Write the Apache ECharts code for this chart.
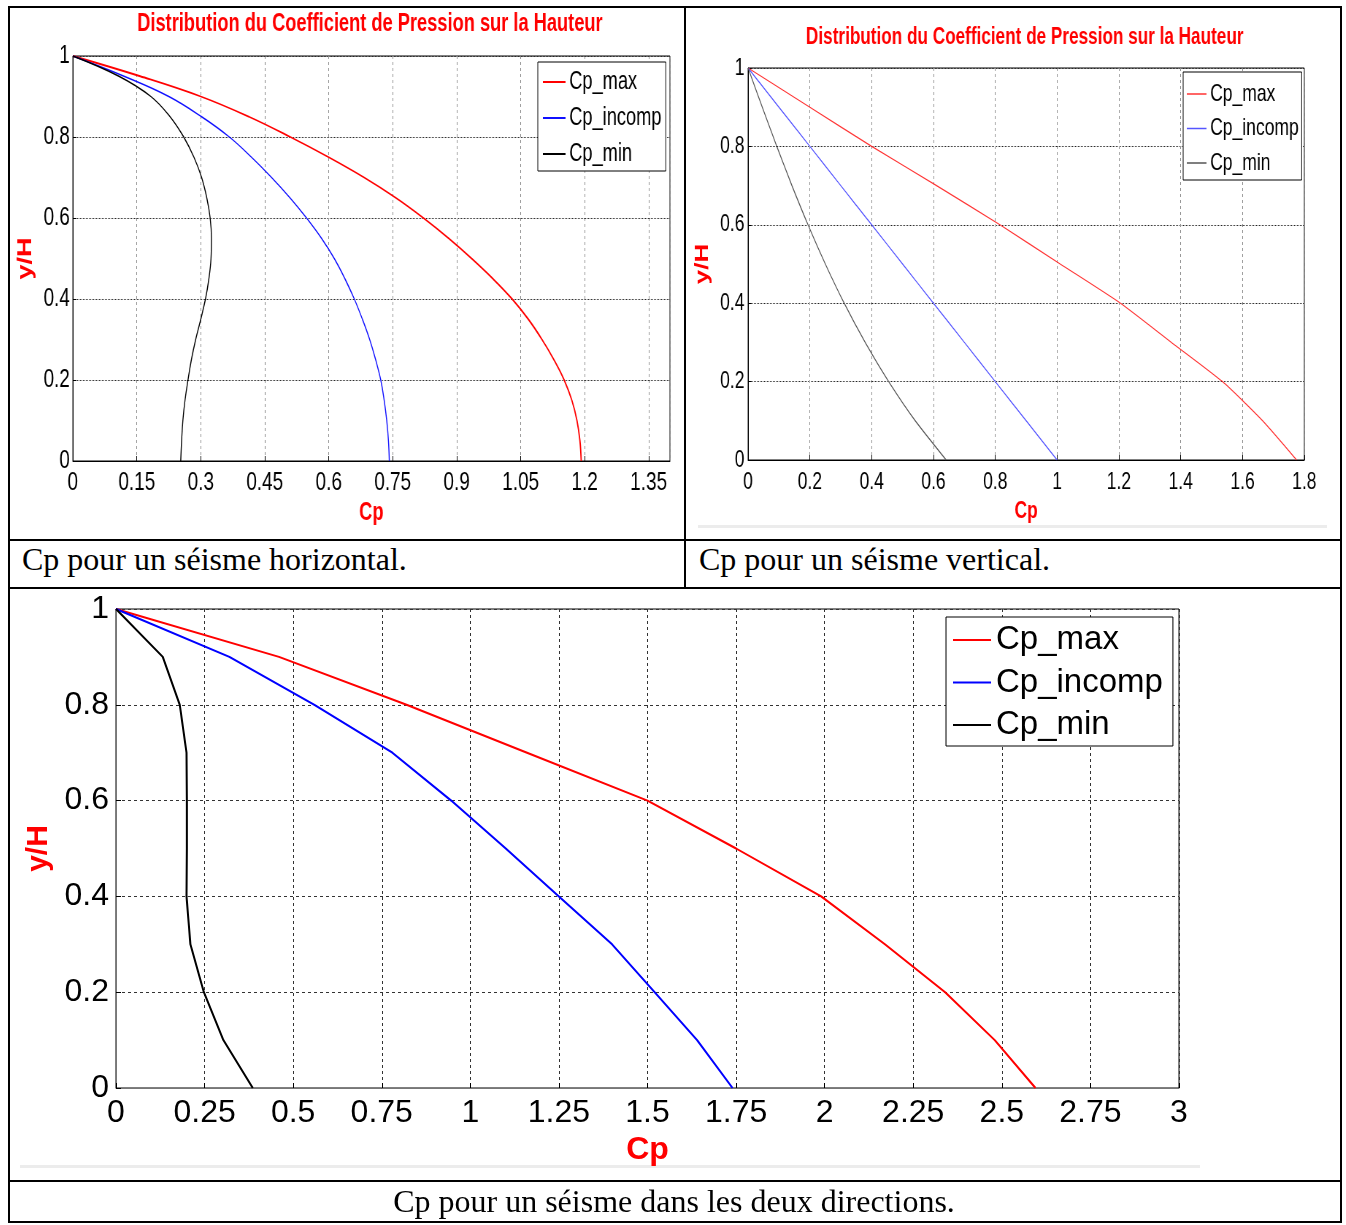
<!DOCTYPE html>
<html><head><meta charset="utf-8">
<script src="https://cdn.jsdelivr.net/npm/echarts@6/dist/echarts.min.js"></script>
<style>
body{margin:0;width:1346px;height:1225px;background:#fff;position:relative;overflow:hidden;}
.ln{position:absolute;background:#000;}
.gl{position:absolute;background:#ececec;}
.cap{position:absolute;font-family:'Liberation Serif','Times New Roman',serif;font-size:32px;line-height:32px;color:#000;white-space:nowrap;}
.ch{position:absolute;}
.sq{transform:scaleX(0.73);transform-origin:0 0;}
</style></head><body>
<div class="gl" style="left:698px;top:525px;width:629px;height:3px"></div>
<div class="gl" style="left:20px;top:1165px;width:1180px;height:3px"></div>
<div id="c1" class="ch sq" style="left:10px;top:9px;width:923px;height:529px"></div>
<div id="c2" class="ch sq" style="left:686px;top:9px;width:896px;height:529px"></div>
<div id="c3" class="ch" style="left:10px;top:590px;width:1330px;height:589px"></div>
<div class="ln" style="left:8px;top:6px;width:1334px;height:2px"></div>
<div class="ln" style="left:8px;top:539px;width:1334px;height:2px"></div>
<div class="ln" style="left:8px;top:587px;width:1334px;height:2px"></div>
<div class="ln" style="left:8px;top:1180px;width:1334px;height:2px"></div>
<div class="ln" style="left:8px;top:1221px;width:1334px;height:2px"></div>
<div class="ln" style="left:8px;top:6px;width:2px;height:1217px"></div>
<div class="ln" style="left:1340px;top:6px;width:2px;height:1217px"></div>
<div class="ln" style="left:684px;top:6px;width:2px;height:583px"></div>
<div class="cap" style="left:22px;top:543px">Cp pour un séisme horizontal.</div>
<div class="cap" style="left:699px;top:543px">Cp pour un séisme vertical.</div>
<div class="cap" style="left:0;top:1185px;width:1348px;text-align:center">Cp pour un séisme dans les deux directions.</div>
<script>
// ---------- data ----------
const seriesNames = ['Cp_max', 'Cp_incomp', 'Cp_min'];
const chartTitle = 'Distribution du Coefficient de Pression sur la Hauteur';

// Séisme horizontal
const yH_h = [1, 0.95, 0.9, 0.85, 0.8, 0.75, 0.7, 0.65, 0.6, 0.55, 0.5, 0.45, 0.4, 0.35, 0.3, 0.25, 0.2, 0.15, 0.1, 0.05, 0];
const cpMax_h = [0, 0.158, 0.30, 0.413, 0.51, 0.60, 0.683, 0.757, 0.822, 0.881, 0.935, 0.985, 1.03, 1.068, 1.10, 1.128, 1.152, 1.17, 1.182, 1.189, 1.192];
const cpIncomp_h = [0, 0.12, 0.225, 0.302, 0.367, 0.419, 0.466, 0.509, 0.548, 0.583, 0.613, 0.638, 0.66, 0.679, 0.696, 0.71, 0.722, 0.73, 0.736, 0.74, 0.742];
const cpMin_h = [0, 0.108, 0.183, 0.228, 0.26, 0.284, 0.302, 0.314, 0.322, 0.325, 0.324, 0.319, 0.311, 0.30, 0.288, 0.278, 0.27, 0.263, 0.258, 0.255, 0.253];

// Séisme vertical
const yH_v = [1, 0.9, 0.8, 0.7, 0.6, 0.5, 0.4, 0.3, 0.2, 0.1, 0];
const cpMax_v = [0, 0.2, 0.4, 0.61, 0.815, 1.01, 1.205, 1.37, 1.535, 1.665, 1.775];
const cpIncomp_v = [0, 0.1, 0.2, 0.3, 0.4, 0.5, 0.6, 0.7, 0.8, 0.9, 1.0];
const cpMin_v = [0, 0.046, 0.093, 0.142, 0.194, 0.25, 0.311, 0.379, 0.455, 0.541, 0.641];

// Séisme dans les deux directions
const yH_b = [1, 0.9, 0.8, 0.7, 0.6, 0.5, 0.4, 0.3, 0.2, 0.1, 0];
const cpMax_b = [0, 0.46, 0.82, 1.16, 1.50, 1.75, 1.99, 2.17, 2.34, 2.48, 2.595];
const cpIncomp_b = [0, 0.32, 0.56, 0.78, 0.946, 1.10, 1.25, 1.40, 1.52, 1.64, 1.74];
const cpMin_b = [0, 0.132, 0.18, 0.199, 0.2, 0.2, 0.199, 0.21, 0.248, 0.303, 0.386];

// axis settings
const xTicks_h = {min: 0, max: 1.4, interval: 0.15};
const xTicks_v = {min: 0, max: 1.8, interval: 0.2};
const xTicks_b = {min: 0, max: 3, interval: 0.25};
const yTicks = {min: 0, max: 1, interval: 0.2};

// ---------- helpers ----------
const FA = "'Liberation Sans',Arial,Helvetica,sans-serif";
function pairs(xs, ys) { return xs.map((x, i) => [x, ys[i]]); }

function build(cfg) {
  const vals = cfg.series;
  const opt = {
    animation: false,
    grid: {left: cfg.grid[0], top: cfg.grid[1], width: cfg.grid[2], height: cfg.grid[3],
      show: true, borderColor: '#000', borderWidth: 1, containLabel: false},
    xAxis: {
      type: 'value', min: cfg.x.min, max: cfg.x.max, interval: cfg.x.interval,
      name: 'Cp', nameLocation: 'middle', nameGap: cfg.xNameGap,
      nameTextStyle: {color: '#ff0000', fontWeight: 'bold', fontSize: cfg.nameSize, fontFamily: FA},
      axisLine: {show: true, onZero: false, lineStyle: {color: cfg.axisColor, width: 1}},
      axisTick: {show: true, inside: true, length: 5, lineStyle: {color: '#000'}},
      axisLabel: {color: '#000', fontSize: cfg.labelSize, fontFamily: FA, margin: cfg.xLabelMargin, showMaxLabel: cfg.showMaxX},
      splitLine: {show: true, lineStyle: {color: cfg.vGridColor, type: cfg.vGridType, width: 1}}
    },
    yAxis: {
      type: 'value', min: yTicks.min, max: yTicks.max, interval: yTicks.interval,
      name: 'y/H', nameLocation: 'middle', nameGap: cfg.yNameGap, nameRotate: 90,
      nameTextStyle: {color: '#ff0000', fontWeight: 'bold', fontSize: cfg.yNameSize, fontFamily: FA},
      axisLine: {show: true, lineStyle: {color: cfg.axisColor, width: 1}},
      axisTick: {show: true, inside: true, length: 5, lineStyle: {color: '#000'}},
      axisLabel: {color: '#000', fontSize: cfg.labelSize, fontFamily: FA, margin: cfg.yLabelMargin},
      splitLine: {show: true, lineStyle: {color: cfg.hGridColor, type: cfg.hGridType, width: 1}}
    },
    legend: {
      orient: 'vertical', left: cfg.legend.left, top: cfg.legend.top,
      backgroundColor: '#fff', borderColor: '#000', borderWidth: 1,
      padding: cfg.legend.padding, itemGap: cfg.legend.gap,
      icon: 'rect', itemWidth: cfg.legend.iw, itemHeight: cfg.legend.ih,
      textStyle: {color: '#000', fontSize: cfg.legend.fs, fontFamily: FA, lineHeight: cfg.legend.lh},
      data: seriesNames
    },
    series: seriesNames.map((n, i) => ({
      name: n, type: 'line', symbol: 'none', showSymbol: false, smooth: cfg.smooth,
      lineStyle: {color: cfg.colors[i], width: cfg.widths[i]},
      itemStyle: {color: cfg.colors[i]},
      data: vals[i]
    }))
  };
  if (cfg.title) {
    opt.graphic = [{type: 'text', x: cfg.title.x, y: cfg.title.y, silent: true,
      style: {text: chartTitle, fill: '#ff0000', font: 'bold ' + cfg.title.fs + 'px ' + FA,
        align: 'center', verticalAlign: 'middle', textAlign: 'center', textVerticalAlign: 'middle'}}];
  }
  return opt;
}

// top charts are drawn in a wider box then squeezed horizontally (scaleX 0.73) like the original figure
const c1 = echarts.init(document.getElementById('c1'), null, {renderer: 'canvas'});
c1.setOption(build({
  grid: [85, 47, 819, 405], x: xTicks_h, showMaxX: false,
  xNameGap: 39, yNameGap: 39, nameSize: 25, yNameSize: 27,
  labelSize: 26, xLabelMargin: 9, yLabelMargin: 4,
  axisColor: '#000', vGridColor: '#8a8a8a', vGridType: [3, 3], hGridColor: '#222', hGridType: [1, 1],
  legend: {left: 723, top: 53, padding: [6, 6, 3, 7], gap: 8, lh: 28, fs: 25, iw: 31, ih: 2},
  colors: ['#ff0000', '#1010ff', '#000000'], widths: [1.8, 1.4, 1.4], smooth: 0.4,
  series: [pairs(cpMax_h, yH_h), pairs(cpIncomp_h, yH_h), pairs(cpMin_h, yH_h)],
  title: {x: 493, y: 15, fs: 25}
}));

const c2 = echarts.init(document.getElementById('c2'), null, {renderer: 'canvas'});
c2.setOption(build({
  grid: [85, 59, 762, 392], x: xTicks_v, showMaxX: true,
  xNameGap: 38, yNameGap: 39, nameSize: 24, yNameSize: 26,
  labelSize: 24, xLabelMargin: 10, yLabelMargin: 5,
  axisColor: '#000', vGridColor: '#8a8a8a', vGridType: [3, 3], hGridColor: '#222', hGridType: [1, 1],
  legend: {left: 681, top: 63, padding: [8, 4, 3, 5], gap: 6.5, lh: 28, fs: 24, iw: 27, ih: 1.5},
  colors: ['#ff3333', '#5555ff', '#555555'], widths: [1.2, 1.2, 1.2], smooth: 0.2,
  series: [pairs(cpMax_v, yH_v), pairs(cpIncomp_v, yH_v), pairs(cpMin_v, yH_v)],
  title: {x: 464, y: 29, fs: 23.5}
}));

const c3 = echarts.init(document.getElementById('c3'), null, {renderer: 'canvas'});
c3.setOption(build({
  grid: [106, 19, 1063, 479], x: xTicks_b, showMaxX: true,
  xNameGap: 40, yNameGap: 60, nameSize: 32, yNameSize: 30,
  labelSize: 32, xLabelMargin: 9, yLabelMargin: 7,
  axisColor: '#777', vGridColor: '#333', vGridType: [3, 3], hGridColor: '#333', hGridType: [3, 3],
  legend: {left: 936, top: 27, padding: [5, 10, 3, 7], gap: 6.5, lh: 36, fs: 33, iw: 38, ih: 2},
  colors: ['#ff0000', '#0000ff', '#000000'], widths: [2, 2, 2], smooth: false,
  series: [pairs(cpMax_b, yH_b), pairs(cpIncomp_b, yH_b), pairs(cpMin_b, yH_b)]
}));
</script>
</body></html>
